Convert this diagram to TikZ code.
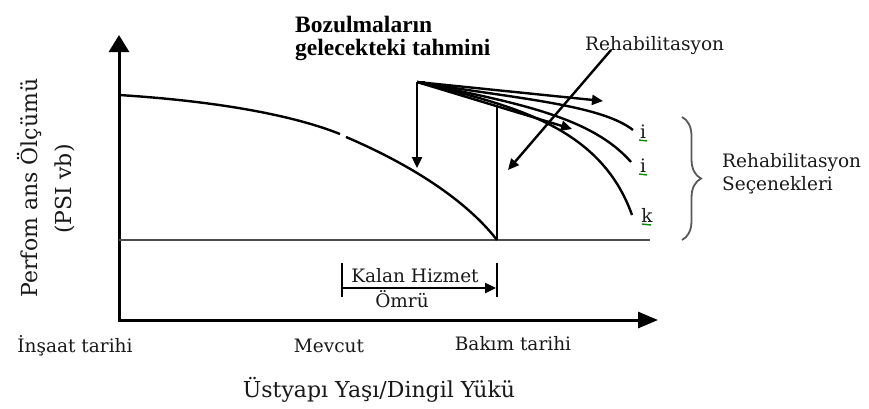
\documentclass[tikz,border=0pt]{standalone}
\usepackage{fontspec}
\setmainfont{DejaVu Serif}
\newfontfamily\titlefont{Liberation Serif}
\usetikzlibrary{arrows.meta,decorations.pathreplacing}
\begin{document}
\begin{tikzpicture}[x=1pt,y=-1pt,
  lbl/.style={text=black!90, font=\fontsize{18.5}{22}\selectfont, inner sep=0pt},
  biglbl/.style={text=black!90, font=\fontsize{22}{26}\selectfont, inner sep=0pt},
  ttl/.style={text=black, font=\titlefont\bfseries\fontsize{23.5}{23.5}\selectfont, inner sep=0pt},
  axis/.style={line width=3pt, {Triangle[length=17pt,width=20pt]}-{Triangle[length=20pt,width=16pt]}},
  crv/.style={line width=2.4pt},
  arr/.style={line width=2.4pt, -{Triangle[length=11pt,width=10pt]}},
  spell/.style={green!55!black, line width=1.4pt}]
\useasboundingbox (0,0) rectangle (869,408);
\fill[white] (0,0) rectangle (869,408);
% axes
\coordinate (O) at (119,320);
\coordinate (Ytip) at (119,35);
\coordinate (Xtip) at (658,320);
\draw[axis] (Ytip) -- (O) -- (Xtip);
% threshold line
\coordinate (T1) at (119,240);
\coordinate (T2) at (650,240);
\draw[line width=2.4pt, black!70] (T1) -- (T2);
% performance curve
\coordinate (C0) at (119,95);
\coordinate (C1) at (340,134);
\coordinate (C2) at (346,137);
\coordinate (C3) at (497,240);
\draw[crv] (C0) .. controls (230,102) and (300,118) .. (C1);
\draw[crv] (C2) .. controls (400,160) and (462,195) .. (C3);
% vertical rehab jump
\coordinate (V1) at (497,106);
\draw[crv] (C3) -- (V1);
% fan
\coordinate (F) at (417,82);
\coordinate (Fd) at (417,168);
\coordinate (A1) at (603,101);
\coordinate (A2) at (572,129);
\coordinate (Ei) at (633,130);
\coordinate (Ej) at (631,162);
\coordinate (Ek) at (632,215);
\draw[arr] (F) -- (Fd);
\draw[crv] (F) -- (425,82);
\draw[arr] (F) -- (A1);
\draw[arr] (F) -- (A2);
\draw[crv] (F) .. controls (510,98) and (600,104) .. (Ei);
\draw[crv] (F) .. controls (510,102) and (590,115) .. (Ej);
\draw[crv] (F) .. controls (510,105) and (600,125) .. (Ek);
% Rehabilitasyon arrow
\coordinate (R1) at (611,50);
\coordinate (R2) at (508,170);
\draw[arr] (R1) -- (R2);
% remaining life dimension
\coordinate (K1a) at (342,263);
\coordinate (K1b) at (342,297);
\coordinate (K2a) at (497,263);
\coordinate (K2b) at (497,297);
\coordinate (KL) at (342,288);
\coordinate (KR) at (496,288);
\draw[line width=2.2pt] (K1a) -- (K1b);
\draw[line width=2.2pt] (K2a) -- (K2b);
\draw[arr] (KL) -- (KR);
% brace
\coordinate (B1) at (682,117);
\coordinate (B2) at (682,240);
\draw[decorate, decoration={brace, amplitude=19pt}, line width=1.8pt, black!65] (B1) -- (B2);
% texts
\node[ttl, anchor=base west] (t1) at (295,32) {Bozulmaların};
\node[ttl, anchor=base west] (t2) at (295,55) {gelecekteki tahmini};
\node[lbl, anchor=base west] (rh) at (585,50) {Rehabilitasyon};
\node[lbl, anchor=base west] (rs1) at (722,167) {Rehabilitasyon};
\node[lbl, anchor=base west] (rs2) at (722,190) {Seçenekleri};
\node[lbl, anchor=base] (li) at (643,138) {i};
\node[lbl, anchor=base] (lj) at (643,172) {i};
\node[lbl, anchor=base] (lk) at (647,222) {k};
\draw[spell] (639,140) -- (647,141);
\draw[spell] (639,174) -- (647,175);
\draw[spell] (642,224) -- (651,225);
\node[lbl, anchor=base] (kh) at (415,282) {Kalan Hizmet};
\node[lbl, anchor=base] (ko) at (402,307) {Ömrü};
\node[lbl, anchor=base] (x1) at (75,352) {İnşaat tarihi};
\node[lbl, anchor=base] (x2) at (329,352) {Mevcut};
\node[lbl, anchor=base] (x3) at (513,350) {Bakım tarihi};
\node[biglbl, anchor=base] (xl) at (379,397) {Üstyapı Yaşı/Dingil Yükü};
\node[biglbl, rotate=90] (yl1) at (30,188) {Perfom ans Ölçümü};
\node[biglbl, rotate=90] (yl2) at (65,189) {(PSI vb)};
\end{tikzpicture}
\end{document}
